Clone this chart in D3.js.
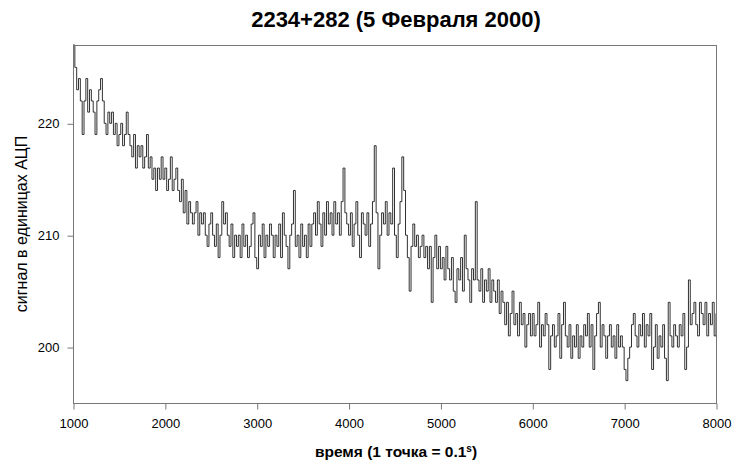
<!DOCTYPE html>
<html>
<head>
<meta charset="utf-8">
<script src="https://cdn.jsdelivr.net/npm/d3@7"></script>
<style>
  html, body { margin: 0; padding: 0; background: #fff; }
  svg { display: block; }
  text { font-family: "Liberation Sans", Arial, sans-serif; fill: #000; }
</style>
</head>
<body>
<svg id="chart" width="732" height="464"></svg>
<script>
// ---- data ----
const titleText = "2234+282 (5 Февраля 2000)";
const xLabel = "время (1 точка = 0.1";
const xLabelSup = "s";
const yLabel = "сигнал в единицах АЦП";
const xStart = 1000;
const xStep = 20;
const xTicks = [1000, 2000, 3000, 4000, 5000, 6000, 7000, 8000];
const yTicks = [200, 210, 220];
const xDomain = [1000, 8000];
const yDomain = [195, 227];
// signal, one sample every 20 points (1000 ... 8000)
const signal = [
  227, 225, 223, 224, 222, 219, 222, 224, 221, 223,
  222, 221, 219, 222, 223, 224, 222, 220, 219, 221,
  220, 221, 219, 220, 218, 219, 220, 218, 219, 221,
  219, 218, 217, 219, 216, 218, 217, 218, 216, 217,
  219, 216, 217, 215, 216, 214, 216, 215, 217, 215,
  216, 214, 215, 217, 214, 215, 216, 214, 213, 215,
  212, 214, 211, 213, 212, 211, 212, 213, 210, 212,
  211, 212, 210, 209, 211, 212, 210, 209, 211, 208,
  210, 213, 211, 212, 210, 209, 211, 208, 210, 209,
  210, 208, 211, 209, 210, 208, 209, 211, 212, 208,
  207, 210, 209, 211, 208, 210, 209, 211, 210, 208,
  210, 209, 211, 208, 212, 210, 209, 207, 210, 211,
  214, 209, 210, 208, 211, 209, 210, 208, 211, 209,
  211, 212, 210, 213, 211, 209, 212, 210, 213, 211,
  212, 210, 213, 211, 212, 210, 213, 216, 212, 211,
  210, 212, 209, 211, 213, 210, 208, 212, 211, 210,
  212, 209, 211, 213, 218, 212, 207, 210, 212, 211,
  213, 210, 212, 211, 216, 210, 208, 211, 213, 217,
  214, 210, 208, 205, 209, 211, 209, 210, 208, 209,
  210, 208, 209, 207, 209, 204, 208, 210, 207, 209,
  207, 208, 206, 209, 207, 206, 208, 205, 204, 207,
  206, 208, 205, 210, 207, 206, 204, 207, 206, 213,
  206, 205, 207, 204, 206, 205, 207, 204, 206, 205,
  204, 206, 203, 205, 204, 202, 204, 201, 203, 205,
  202, 203, 201, 204, 202, 203, 200, 202, 203, 201,
  203, 201, 202, 204, 200, 202, 201, 203, 202, 198,
  201, 202, 200, 201, 203, 199, 202, 204, 201, 200,
  202, 199, 201, 200, 202, 199, 201, 200, 202, 201,
  203, 200, 202, 198, 201, 203, 204, 200, 202, 201,
  199, 201, 202, 200, 201, 199, 202, 200, 201, 200,
  198, 197, 199, 200, 202, 203, 201, 200, 202, 201,
  203, 200, 202, 201, 203, 198, 200, 202, 199, 201,
  200, 202, 199, 197, 204, 201, 200, 202, 201, 200,
  202, 201, 203, 198, 200, 206, 202, 203, 204, 202,
  201, 204, 203, 202, 204, 201, 203, 202, 204, 201,
  203
];

// ---- layout ----
const margin = { left: 73, right: 16, top: 45, bottom: 61 };
const W = 732, H = 464;
const svg = d3.select("#chart");
const x = d3.scaleLinear().domain(xDomain).range([margin.left, W - margin.right]);
const y = d3.scaleLinear().domain(yDomain).range([H - margin.bottom, margin.top]);

const axisColor = "#777";

// data line
const line = d3.line()
  .curve(d3.curveStepAfter)
  .x((d, i) => x(xStart + i * xStep))
  .y(d => y(d));
svg.append("path")
  .datum(signal)
  .attr("fill", "none")
  .attr("stroke", "#1a1a1a")
  .attr("stroke-width", 0.9)
  .attr("d", line);

// frame
svg.append("rect")
  .attr("x", x(xDomain[0]) + 0.5)
  .attr("y", y(yDomain[1]) + 0.5)
  .attr("width", x(xDomain[1]) - x(xDomain[0]))
  .attr("height", y(yDomain[0]) - y(yDomain[1]))
  .attr("fill", "none")
  .attr("stroke", axisColor)
  .attr("stroke-width", 1);

// axes
const xAxis = svg.append("g")
  .attr("transform", `translate(0.5,${y(yDomain[0]) + 0.5})`)
  .call(d3.axisBottom(x).tickValues(xTicks).tickFormat(d3.format("d")).tickSize(6).tickPadding(9));
const yAxis = svg.append("g")
  .attr("transform", `translate(${x(xDomain[0]) + 0.5},0.5)`)
  .call(d3.axisLeft(y).tickValues(yTicks).tickFormat(d3.format("d")).tickSize(6).tickPadding(8));
[xAxis, yAxis].forEach(g => {
  g.select(".domain").remove();
  g.selectAll(".tick line").attr("stroke", axisColor);
  g.selectAll(".tick text")
    .attr("font-family", '"Liberation Sans", Arial, sans-serif')
    .attr("font-size", 13)
    .attr("fill", "#111");
});

// title
svg.append("text")
  .attr("x", 396).attr("y", 27)
  .attr("text-anchor", "middle")
  .attr("font-size", 22).attr("font-weight", "bold")
  .text(titleText);

// x label
const xl = svg.append("text")
  .attr("x", 396).attr("y", 457)
  .attr("text-anchor", "middle")
  .attr("font-size", 15.5).attr("font-weight", "bold");
xl.append("tspan").text(xLabel);
xl.append("tspan").attr("font-size", 10).attr("dy", -5).text(xLabelSup);
xl.append("tspan").attr("dy", 5).text(")");

// y label
svg.append("text")
  .attr("transform", `translate(27,${(margin.top + H - margin.bottom) / 2}) rotate(-90)`)
  .attr("text-anchor", "middle")
  .attr("font-size", 16)
  .text(yLabel);
</script>
</body>
</html>
